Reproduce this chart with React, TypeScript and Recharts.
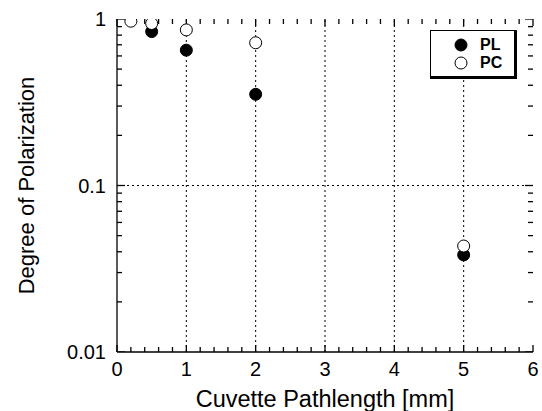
import React from "react";
import { ScatterChart, Scatter, XAxis, YAxis, ReferenceLine } from "recharts";

// Cuvette pathlength [mm] and degree of polarization
const plPathlength = [0.5, 1, 2, 5];
const plPolarization = [0.84, 0.65, 0.353, 0.0383];
const pcPathlength = [0.2, 0.5, 1, 2, 5];
const pcPolarization = [0.97, 0.94, 0.86, 0.72, 0.0433];

const xTicks = [
  0, 0.2, 0.4, 0.6, 0.8, 1, 1.2, 1.4, 1.6, 1.8, 2, 2.2, 2.4, 2.6, 2.8, 3, 3.2,
  3.4, 3.6, 3.8, 4, 4.2, 4.4, 4.6, 4.8, 5, 5.2, 5.4, 5.6, 5.8, 6,
];
const yTicks = [
  0.01, 0.02, 0.03, 0.04, 0.05, 0.06, 0.07, 0.08, 0.09, 0.1, 0.2, 0.3, 0.4,
  0.5, 0.6, 0.7, 0.8, 0.9, 1,
];
const yMajor = [0.01, 0.1, 1];
const gridX = [1, 2, 3, 4, 5];

const plData = plPathlength.map((x, i) => ({ x, y: plPolarization[i] }));
const pcData = pcPathlength.map((x, i) => ({ x, y: pcPolarization[i] }));

const font = "Arial, 'Liberation Sans', sans-serif";

const isMajorX = (v: number) => Math.abs(v - Math.round(v)) < 1e-6;
const isMajorY = (v: number) => yMajor.some((m) => Math.abs(m - v) < 1e-9);

// tick marks on the frame, placed through the chart scales
const xMin = 0;
const xMax = 6;
const yMin = 0.01;
const yMax = 1;
const bottomTicks = xTicks.map((x) => ({ x, y: yMin, dir: -1 }));
const topTicks = xTicks.map((x) => ({ x, y: yMax, dir: 1 }));
const leftTicks = yTicks.map((y) => ({ x: xMin, y, dir: 1 }));
const rightTicks = yTicks.map((y) => ({ x: xMax, y, dir: -1 }));

const bottomLabel = (props: any) => {
  const { x, y, payload } = props;
  if (!isMajorX(payload.value)) return <g />;
  return (
    <text x={x} y={y + 24} textAnchor="middle" fontSize={20} fontFamily={font} fill="#000">
      {Math.round(payload.value)}
    </text>
  );
};

const leftLabel = (props: any) => {
  const { x, y, payload } = props;
  if (!isMajorY(payload.value)) return <g />;
  return (
    <text x={x - 11} y={y + 7} textAnchor="end" fontSize={20} fontFamily={font} fill="#000">
      {String(payload.value)}
    </text>
  );
};

const VTick = (p: any) => {
  const len = isMajorX(p.payload.x) ? 7 : 5;
  return (
    <path
      d={`M${p.cx},${p.cy}V${p.cy + p.payload.dir * len}`}
      stroke="#000"
      strokeWidth={1.3}
      fill="none"
    />
  );
};

const HTick = (p: any) => {
  const len = isMajorY(p.payload.y) ? 8 : 5;
  return (
    <path
      d={`M${p.cx},${p.cy}H${p.cx + p.payload.dir * len}`}
      stroke="#000"
      strokeWidth={1.3}
      fill="none"
    />
  );
};

const Dot = ({ cx, cy, fill }: any) => (
  <circle cx={cx} cy={cy} r={6} fill={fill} stroke="#000" strokeWidth={1} />
);

const LegendBox = () => (
  <div
    style={{
      position: "absolute",
      left: 430,
      top: 30,
      width: 83,
      height: 45,
      borderTop: "1.5px solid #000",
      borderLeft: "1.5px solid #000",
      borderRight: "3.5px solid #000",
      borderBottom: "3.5px solid #000",
      background: "#fff",
      fontFamily: font,
      fontSize: 16,
      fontWeight: "bold",
    }}
  >
    {[
      { name: "PL", fill: "#000", top: 6 },
      { name: "PC", fill: "#fff", top: 24 },
    ].map((r) => (
      <div
        key={r.name}
        style={{
          position: "absolute",
          left: 23,
          top: r.top,
          height: 16,
          display: "flex",
          alignItems: "center",
        }}
      >
        <svg width={14} height={14} style={{ display: "block" }}>
          <circle cx={7} cy={7} r={6} fill={r.fill} stroke="#000" strokeWidth={1} />
        </svg>
        <span style={{ marginLeft: 12, lineHeight: "16px" }}>{r.name}</span>
      </div>
    ))}
  </div>
);

export default function App() {
  return (
    <div style={{ position: "absolute", left: 0, top: 0, width: 542, height: 411, background: "#fff" }}>
      <ScatterChart
        width={542}
        height={411}
        margin={{ top: 19, right: 9, bottom: 0, left: 0 }}
      >
        <XAxis
          xAxisId="b"
          type="number"
          dataKey="x"
          domain={[xMin, xMax]}
          ticks={xTicks}
          interval={0}
          height={59}
          tickSize={0}
          tickMargin={0}
          tickLine={false}
          tick={bottomLabel}
          axisLine={{ stroke: "#000", strokeWidth: 1.3 }}
          label={{
            value: "Cuvette Pathlength [mm]",
            position: "insideBottom",
            offset: 4,
            fontSize: 23.5,
            fontFamily: font,
            fill: "#000",
          }}
        />
        <XAxis
          xAxisId="t"
          orientation="top"
          type="number"
          dataKey="x"
          domain={[xMin, xMax]}
          height={0}
          tick={false}
          tickLine={false}
          axisLine={{ stroke: "#000", strokeWidth: 1.3 }}
        />
        <YAxis
          yAxisId="l"
          type="number"
          dataKey="y"
          scale="log"
          domain={[yMin, yMax]}
          allowDataOverflow
          ticks={yTicks}
          interval={0}
          width={117}
          tickSize={0}
          tickMargin={0}
          tickLine={false}
          tick={leftLabel}
          axisLine={{ stroke: "#000", strokeWidth: 1.3 }}
          label={{
            value: "Degree of Polarization",
            angle: -90,
            position: "insideLeft",
            offset: 26,
            fontSize: 22,
            fontFamily: font,
            fill: "#000",
            style: { textAnchor: "middle" },
          }}
        />
        <YAxis
          yAxisId="r"
          orientation="right"
          type="number"
          dataKey="y"
          scale="log"
          domain={[yMin, yMax]}
          allowDataOverflow
          width={0}
          tick={false}
          tickLine={false}
          axisLine={{ stroke: "#000", strokeWidth: 1.3 }}
        />
        {gridX.map((g) => (
          <ReferenceLine
            key={"g" + g}
            x={g}
            xAxisId="b"
            yAxisId="l"
            stroke="#000"
            strokeWidth={1}
            strokeDasharray="2 3"
          />
        ))}
        <ReferenceLine
          y={0.1}
          xAxisId="b"
          yAxisId="l"
          stroke="#000"
          strokeWidth={1}
          strokeDasharray="2 3"
        />
        <Scatter data={bottomTicks} xAxisId="b" yAxisId="l" shape={VTick} isAnimationActive={false} />
        <Scatter data={topTicks} xAxisId="b" yAxisId="l" shape={VTick} isAnimationActive={false} />
        <Scatter data={leftTicks} xAxisId="b" yAxisId="l" shape={HTick} isAnimationActive={false} />
        <Scatter data={rightTicks} xAxisId="b" yAxisId="l" shape={HTick} isAnimationActive={false} />
        <Scatter
          name="PL"
          data={plData}
          xAxisId="b"
          yAxisId="l"
          fill="#000"
          shape={<Dot fill="#000" />}
          isAnimationActive={false}
        />
        <Scatter
          name="PC"
          data={pcData}
          xAxisId="b"
          yAxisId="l"
          fill="#fff"
          shape={<Dot fill="#fff" />}
          isAnimationActive={false}
        />
      </ScatterChart>
      <LegendBox />
    </div>
  );
}
